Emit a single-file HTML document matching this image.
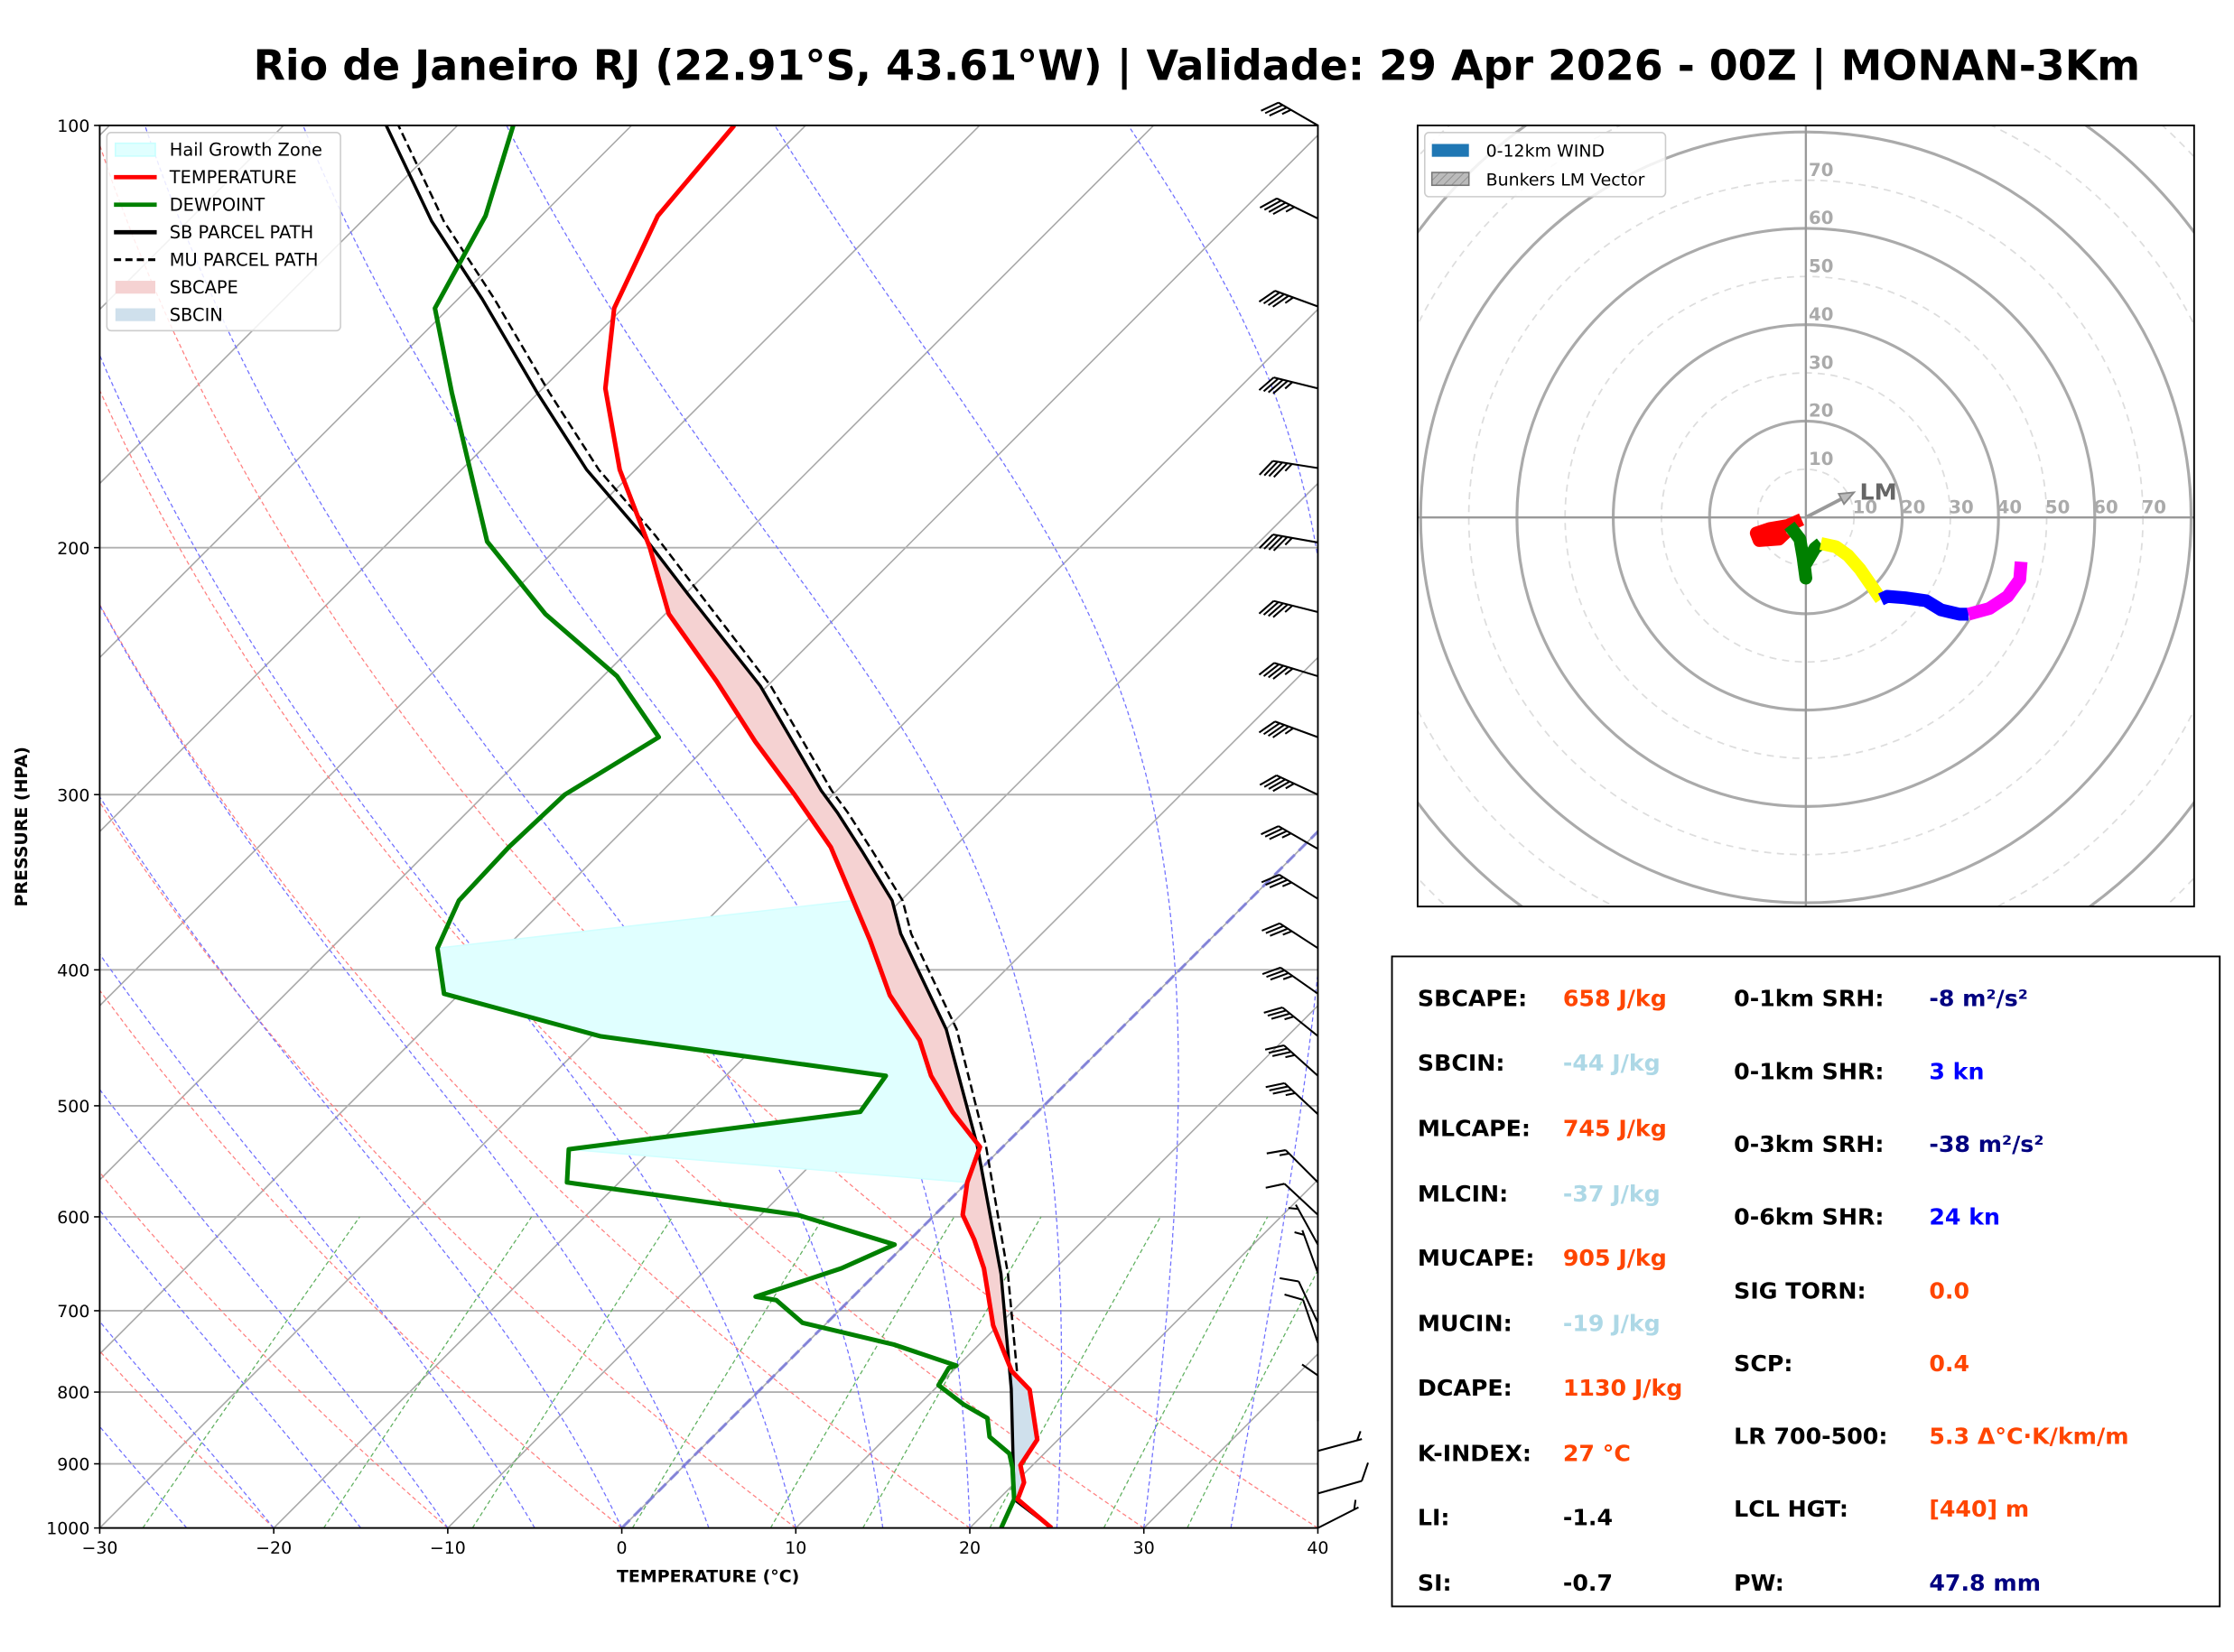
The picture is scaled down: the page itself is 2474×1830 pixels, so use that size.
<!DOCTYPE html>
<html><head><meta charset="utf-8"><style>
html,body{margin:0;padding:0;background:#fff}
svg{display:block;font-family:"DejaVu Sans","Liberation Sans",sans-serif}
</style></head><body>
<svg id="root" xmlns="http://www.w3.org/2000/svg" width="2474" height="1830" viewBox="0 0 1568 1159" preserveAspectRatio="none">
<rect x="0" y="0" width="1568" height="1159" fill="#fff"/>
<text x="840" y="56" text-anchor="middle" font-size="29.1" font-weight="bold">Rio de Janeiro RJ (22.91°S, 43.61°W) | Validade: 29 Apr 2026 - 00Z | MONAN-3Km</text>
<defs>
<clipPath id="skewClip"><rect x="70" y="88" width="855" height="984"/></clipPath>
<clipPath id="hodoClip"><rect x="995" y="88" width="545" height="548"/></clipPath>
<pattern id="hatch" width="4" height="4" patternUnits="userSpaceOnUse" patternTransform="rotate(45)"><rect width="4" height="4" fill="#bbb"/><line x1="0" y1="0" x2="0" y2="4" stroke="#888" stroke-width="1"/></pattern>
</defs>
<g id="skew"></g>
<g id="hodo"></g>
<g id="table"></g>
</svg>
<script>
// ---------- DATA ----------
const tempP = [1000,954,928,902,865,797,773,717,653,623,598,567,535,505,476,449,417,381,327,300,275,249,223,200,176,154,135,116,100];
const tempT = [24.7,21.1,20.5,19.3,18.8,15.5,13.4,9.7,5.9,3.7,1.6,0.0,-1.3,-4.9,-8.2,-10.9,-15.2,-19.5,-27.1,-32.2,-37.5,-43.2,-49.8,-54.7,-60.9,-66.4,-70.5,-73.3,-74.1];
const dewP = [1000,954,906,885,861,835,816,791,769,766,740,714,688,684,653,628,598,567,537,505,476,446,416,386,357,327,300,273,247,223,198,176,155,135,116,100];
const dewT = [21.8,20.9,19.0,18.0,15.9,14.7,12.5,10.0,9.6,9.9,5.1,-1.4,-4.2,-5.6,-2.3,-0.6,-7.9,-23.0,-24.8,-10.2,-10.8,-29.5,-40.9,-43.9,-45.4,-45.6,-45.4,-43.3,-49.2,-56.9,-64.4,-69.5,-75.0,-80.8,-83.2,-86.8];
const sbP = [1000,954,796,659,533,441,377,357,329,309,298,251,216,196,176,155,133,117,100];
const sbT = [24.7,20.9,14.4,7.2,-1.6,-10.0,-18.1,-20.5,-25.1,-28.7,-30.9,-40.4,-49.8,-55.8,-62.8,-70.1,-78.6,-86.0,-94.1];
const muP = [773,659,533,441,377,357,329,309,298,251,216,196,176,155,133,117,100];
const muT = [13.7,7.6,-1.1,-9.4,-17.5,-19.9,-24.5,-28.1,-30.3,-39.8,-49.1,-55.1,-62.1,-69.4,-77.9,-85.3,-93.4];
const barbP = [100,116.5,134.6,154,175.5,198.3,222.3,247,273,300,328,356,386,416,446,476,507,567,598,628,658,714,738,839,881,945,1000];
const barbDir = [300,296,290,284,279,280,284,287,290,295,300,302,303,305,309,312,313,315,313,331,340,335,341,360,75,74,63];
const barbSpd = [35,45,45,45,45,45,45,45,45,45,35,35,35,35,35,35,35,15,10,5,5,10,10,10,5,10,5];
const xTicks = [-30,-20,-10,0,10,20,30,40];
const yTicks = [100,200,300,400,500,600,700,800,900,1000];
// hodograph segments (knots)
const hodoRedU = [-0.9,-3.75,-7.5,-10.3,-9.7,-5.6,-4.1];
const hodoRedV = [-0.4,-1.7,-2.3,-3.25,-4.8,-4.5,-3.1];
const hodoGreenU = [-3.4,-1.25,-0.6,0.0,-0.3,1.9,3.1];
const hodoGreenV = [-1.7,-4.5,-8.25,-12.6,-10.1,-6.4,-5.4];
const hodoYellowU = [3.1,6.25,8.75,11.25,15.6];
const hodoYellowV = [-5.4,-6.1,-7.9,-10.75,-17];
const hodoBlueU = [15.6,16.9,20.6,25,28.1,31.9,33.75];
const hodoBlueV = [-17,-16.4,-16.7,-17.3,-19.2,-20.1,-20.1];
const hodoMagU = [33.75,38.1,41.9,44.4,44.7];
const hodoMagV = [-20.1,-18.9,-16.4,-12.9,-9.2];
const lmU = 10, lmV = 5.2;
const ringLabels = [10,20,30,40,50,60,70];

// ---------- HELPERS ----------
const NS = "http://www.w3.org/2000/svg";
function mk(tag, attrs, parent){ const e=document.createElementNS(NS,tag); for(const k in attrs) e.setAttribute(k,attrs[k]); parent.appendChild(e); return e; }
const X0=70, X1=925, Y0=88, Y1=1072, PX=12.214, DEC=984;
function yP(p){ return Y1 - Math.log10(1000/p)*DEC; }
function xT(T,p){ return X0 + (T+30)*PX + (Y1 - yP(p)); }
function interp(P, T, p){
  for(let i=0;i<P.length-1;i++){ if((p<=P[i]&&p>=P[i+1])){ const f=Math.log(p/P[i])/Math.log(P[i+1]/P[i]); return T[i]+f*(T[i+1]-T[i]); } }
  return null;
}
function pathFrom(P,T){ return P.map((p,i)=>(i?'L':'M')+xT(T[i],p).toFixed(2)+' '+yP(p).toFixed(2)).join(' '); }

const skew = document.getElementById('skew');
const bg = mk('g',{'clip-path':'url(#skewClip)'},skew);



// isotherms
for(let T=-140;T<=40;T+=10){
  const l=mk('line',{x1:xT(T,1000),y1:Y1,x2:xT(T,100),y2:Y0,stroke:'#a8a8a8','stroke-width':1},bg);
  
  
}
// isobars
yTicks.forEach(p=>{
  const l=mk('line',{x1:X0,y1:yP(p),x2:X1,y2:yP(p),stroke:'#b0b0b0','stroke-width':1.2},bg);
  
  
});
// dry adiabats
for(let t0=-40;t0<=40;t0+=10){
  let d='';
  for(let p=1000;p>=100;p-=10){ const T=(t0+273.15)*Math.pow(p/1000,0.2857)-273.15; d+=(p==1000?'M':'L')+xT(T,p).toFixed(1)+' '+yP(p).toFixed(1); }
  const e=mk('path',{d:d,fill:'none',stroke:'#ff8080','stroke-width':0.8,'stroke-dasharray':'3,2'},bg);
  
  
}
// moist adiabats
function es(Tc){ return 6.112*Math.exp(17.67*Tc/(Tc+243.5)); }
for(let t0=-30;t0<=45;t0+=5){
  let T=t0+273.15, d='M'+xT(t0,1000).toFixed(1)+' '+Y1;
  for(let p=1000;p>100;p-=2){
    const e_=es(T-273.15), rs=0.622*e_/(p-e_);
    const dTdp=(287*T+2.5e6*rs)/(1005+2.5e6*2.5e6*rs*0.622/(287*T*T))/p;
    T-=dTdp*2;
    d+='L'+xT(T-273.15,p-2).toFixed(1)+' '+yP(p-2).toFixed(1);
  }
  const e=mk('path',{d:d,fill:'none',stroke:'#7070ff','stroke-width':0.8,'stroke-dasharray':'3,2'},bg);
  
  
}
// mixing ratio
[0.0004,0.001,0.002,0.004,0.007,0.01,0.016,0.024,0.032].forEach(w=>{
  let d='';
  for(let p=1000;p>=600;p-=20){ const e_=w*p/(0.622+w), l=Math.log(e_/6.112), Td=243.5*l/(17.67-l); d+=(p==1000?'M':'L')+xT(Td,p).toFixed(1)+' '+yP(p).toFixed(1); }
  const e=mk('path',{d:d,fill:'none',stroke:'#60b060','stroke-width':0.8,'stroke-dasharray':'3,2'},bg);
  
  
});
// 0C isotherm highlight
const zl=mk('line',{x1:xT(0,1000),y1:Y1,x2:xT(0,100),y2:Y0,stroke:'#7777dd','stroke-width':2,'stroke-dasharray':'8,4',opacity:0.8},bg);



const fg = mk('g',{'clip-path':'url(#skewClip)'},skew);
// hail growth zone
(function(){
  let pts=[];
  dewP.forEach((p,i)=>{ if(p<=537&&p>=386) pts.push([p,dewT[i]]); });
  pts.sort((a,b)=>a[0]-b[0]);
  let poly=pts.map(q=>[xT(q[1],q[0]),yP(q[0])]);
  const tp=[]; for(let p=567;p>=357;p-=5){ tp.push([xT(interp(tempP,tempT,p),p),yP(p)]); }
  poly=poly.concat(tp);
  const e=mk('polygon',{points:poly.map(q=>q[0].toFixed(1)+','+q[1].toFixed(1)).join(' '),fill:'#e0ffff',stroke:'#d0ffff','stroke-width':1},fg);
  
  
})();
// CAPE/CIN fill
(function(){
  for(let p=1000;p>200;p-=2){
    const p2=p-2;
    const a1=interp(sbP,sbT,p), a2=interp(sbP,sbT,p2), e1=interp(tempP,tempT,p), e2=interp(tempP,tempT,p2);
    if(a1==null||a2==null||e1==null||e2==null) continue;
    const diff=(a1-e1)+(a2-e2);
    if(Math.abs(diff)<0.01) continue;
    const pts=[[xT(a1,p),yP(p)],[xT(a2,p2),yP(p2)],[xT(e2,p2),yP(p2)],[xT(e1,p),yP(p)]];
    const q=mk('polygon',{points:pts.map(v=>v[0].toFixed(2)+','+v[1].toFixed(2)).join(' '),fill:diff>0?'#f5d2d2':'#cfe0ec',stroke:diff>0?'#f5d2d2':'#cfe0ec','stroke-width':0.6},fg);
    
    
  }
})();
let e;
e=mk('path',{d:pathFrom(muP,muT),fill:'none',stroke:'#000','stroke-width':1.6,'stroke-dasharray':'6,3'},fg);
 
e=mk('path',{d:pathFrom(sbP,sbT),fill:'none',stroke:'#000','stroke-width':2.2,'stroke-linejoin':'round'},fg);
 
e=mk('path',{d:pathFrom(dewP,dewT),fill:'none',stroke:'#008000','stroke-width':3.2,'stroke-linejoin':'round'},fg);
 
e=mk('path',{d:pathFrom(tempP,tempT),fill:'none',stroke:'#ff0000','stroke-width':3.2,'stroke-linejoin':'round'},fg);
 

// frame
e=mk('rect',{x:X0,y:Y0,width:X1-X0,height:Y1-Y0,fill:'none',stroke:'#000','stroke-width':1.2},skew);
 
// ticks
xTicks.forEach(T=>{
  const x=X0+(T+30)*PX;
  mk('line',{x1:x,y1:Y1,x2:x,y2:Y1+4,stroke:'#000','stroke-width':1},skew);
  const t=mk('text',{x:x,y:Y1+18,'text-anchor':'middle','font-size':12},skew);
  t.textContent=(T<0?'\u2212':'')+Math.abs(T);
   
});
yTicks.forEach(p=>{
  const y=yP(p);
  mk('line',{x1:X0-4,y1:y,x2:X0,y2:y,stroke:'#000','stroke-width':1},skew);
  const t=mk('text',{x:X0-7,y:y+4.5,'text-anchor':'end','font-size':12},skew);
  t.textContent=p;
   
});
e=mk('text',{x:497,y:1110,'text-anchor':'middle','font-size':12,'font-weight':'bold'},skew);
e.textContent='TEMPERATURE (°C)';
 
e=mk('text',{x:19,y:580,'text-anchor':'middle','font-size':12,'font-weight':'bold',transform:'rotate(-90 19 580)'},skew);
e.textContent='PRESSURE (HPA)';
 

// wind barbs
const barbG=mk('g',{},skew);
 
barbP.forEach((p,i)=>{
  const d=barbDir[i]*Math.PI/180, bx=X1, by=yP(p), L=32;
  const sx=Math.sin(d), sy=-Math.cos(d);
  const tx=bx+sx*L, ty=by+sy*L;
  const th=-55*Math.PI/180;
  const ux=sx*Math.cos(th)-sy*Math.sin(th), uy=sx*Math.sin(th)+sy*Math.cos(th);
  let dd='M'+bx+' '+by.toFixed(1)+'L'+tx.toFixed(1)+' '+ty.toFixed(1);
  let full=Math.floor(barbSpd[i]/10), half=(barbSpd[i]%10)>=5, k=0;
  for(let j=0;j<full;j++,k++){ const px=tx-sx*k*3.4, py=ty-sy*k*3.4; dd+='M'+px.toFixed(1)+' '+py.toFixed(1)+'l'+(ux*13.5).toFixed(1)+' '+(uy*13.5).toFixed(1); }
  if(half){ if(full==0) k=1; const px=tx-sx*k*3.4, py=ty-sy*k*3.4; dd+='M'+px.toFixed(1)+' '+py.toFixed(1)+'l'+(ux*6.8).toFixed(1)+' '+(uy*6.8).toFixed(1); }
  const b=mk('path',{d:dd,fill:'none',stroke:'#000','stroke-width':1.3},barbG);
  
  
});

// legend
const lg=mk('g',{},skew);
 
mk('rect',{x:75,y:93,width:164,height:139,rx:3,fill:'#fff','fill-opacity':0.85,stroke:'#ccc','stroke-width':1},lg);
const legItems=[['Hail Growth Zone','patch','#e0ffff','#c8ffff'],['TEMPERATURE','line','#ff0000'],['DEWPOINT','line','#008000'],['SB PARCEL PATH','line','#000'],['MU PARCEL PATH','dash','#000'],['SBCAPE','patch','#f5d2d2'],['SBCIN','patch','#cfe0ec']];
legItems.forEach((it,i)=>{
  const y=105+i*19.3;
  const g=mk('g',{},lg);
   
  if(it[1]=='patch') mk('rect',{x:81,y:y-4.5,width:28,height:9,fill:it[2],stroke:it[3]||'none'},g);
  else mk('line',{x1:80,y1:y,x2:110,y2:y,stroke:it[2],'stroke-width':it[1]=='dash'?2:3,'stroke-dasharray':it[1]=='dash'?'5,3':'none'},g);
  const t=mk('text',{x:119,y:y+4.3,'font-size':12.3},g); t.textContent=it[0];
});

// ---------- HODOGRAPH ----------
const hodo=document.getElementById('hodo');
const HC={x:1267.5,y:363}, K=3.38;
const hg=mk('g',{'clip-path':'url(#hodoClip)'},hodo);
for(let r=10;r<=110;r+=10){
  const c=mk('circle',{cx:HC.x,cy:HC.y,r:r*K,fill:'none',stroke:r%20==0?'#aaa':'#ddd','stroke-width':r%20==0?2:1.1,'stroke-dasharray':r%20==0?'none':'5,4'},hg);
  
  
}
mk('line',{x1:995,y1:HC.y,x2:1540,y2:HC.y,stroke:'#999','stroke-width':1.5},hg);
mk('line',{x1:HC.x,y1:88,x2:HC.x,y2:636,stroke:'#999','stroke-width':1.5},hg);
ringLabels.forEach(r=>{
  let t=mk('text',{x:HC.x+r*K-1,y:HC.y-3,'text-anchor':'start','font-size':12.5,'font-weight':'bold',fill:'#aaa'},hodo);
  t.textContent=r;  
  t=mk('text',{x:HC.x+2,y:HC.y-r*K-3,'font-size':12.5,'font-weight':'bold',fill:'#aaa'},hodo);
  t.textContent=r;  
});
function hodoSeg(U,V,col,name){
  const d=U.map((u,i)=>(i?'L':'M')+(HC.x+u*K).toFixed(1)+' '+(HC.y-V[i]*K).toFixed(1)).join('');
  const p=mk('path',{d:d,fill:'none',stroke:col,'stroke-width':9,'stroke-linejoin':'round','stroke-linecap':'butt'},hg);
  
  
}
hodoSeg(hodoRedU,hodoRedV,'#ff0000','hodo-segment-0-1km');
hodoSeg(hodoGreenU,hodoGreenV,'#008000','hodo-segment-1-3km');
hodoSeg(hodoYellowU,hodoYellowV,'#ffff00','hodo-segment-3-6km');
hodoSeg(hodoBlueU,hodoBlueV,'#0000ff','hodo-segment-6-9km');
hodoSeg(hodoMagU,hodoMagV,'#ff00ff','hodo-segment-9-12km');
(function(){
  const ex=HC.x+lmU*K, ey=HC.y-lmV*K, a=Math.atan2(ey-HC.y,ex-HC.x);
  const g=mk('g',{},hodo);
   
  mk('line',{x1:HC.x,y1:HC.y,x2:ex-Math.cos(a)*6,y2:ey-Math.sin(a)*6,stroke:'#999','stroke-width':2.5},g);
  const p1=[ex,ey],p2=[ex-10*Math.cos(a)+4*Math.sin(a),ey-10*Math.sin(a)-4*Math.cos(a)],p3=[ex-10*Math.cos(a)-4*Math.sin(a),ey-10*Math.sin(a)+4*Math.cos(a)];
  mk('polygon',{points:[p1,p2,p3].map(q=>q.join(',')).join(' '),fill:'#bbb',stroke:'#888','stroke-width':1.2},g);
  const t=mk('text',{x:ex+4,y:ey+5,'font-size':16,'font-weight':'bold',fill:'#666'},g); t.textContent='LM';
})();
e=mk('rect',{x:995,y:88,width:545,height:548,fill:'none',stroke:'#000','stroke-width':1.2},hodo);
 
(function(){
  const g=mk('g',{},hodo);
   
  mk('rect',{x:1000,y:93,width:169,height:45,rx:3,fill:'#fff','fill-opacity':0.85,stroke:'#ccc'},g);
  mk('rect',{x:1005,y:101,width:26,height:9,fill:'#1f77b4'},g);
  let t=mk('text',{x:1043,y:110,'font-size':12},g); t.textContent='0-12km WIND';
  mk('rect',{x:1005,y:121,width:26,height:9,fill:'url(#hatch)',stroke:'#777'},g);
  t=mk('text',{x:1043,y:130,'font-size':12},g); t.textContent='Bunkers LM Vector';
})();

// ---------- TABLE ----------
const tbl=document.getElementById('table');
mk('rect',{x:977,y:671,width:581,height:456,fill:'#fff',stroke:'#000','stroke-width':1.2},tbl);
const leftRows=[['SBCAPE:','658 J/kg','#ff4500',700],['SBCIN:','-44 J/kg','#add8e6',745],['MLCAPE:','745 J/kg','#ff4500',791],['MLCIN:','-37 J/kg','#add8e6',837],['MUCAPE:','905 J/kg','#ff4500',882],['MUCIN:','-19 J/kg','#add8e6',928],['DCAPE:','1130 J/kg','#ff4500',973],['K-INDEX:','27 °C','#ff4500',1019],['LI:','-1.4','#000',1064],['SI:','-0.7','#000',1110]];
const rightRows=[['0-1km SRH:','-8 m²/s²','#000080',700],['0-1km SHR:','3 kn','#0000ff',751],['0-3km SRH:','-38 m²/s²','#000080',802],['0-6km SHR:','24 kn','#0000ff',853],['SIG TORN:','0.0','#ff4500',905],['SCP:','0.4','#ff4500',956],['LR 700-500:','5.3 Δ°C·K/km/m','#ff4500',1007],['LCL HGT:','[440] m','#ff4500',1058],['PW:','47.8 mm','#000080',1110]];
function row(r,lx,vx){
  const g=mk('g',{},tbl);
  
  
  let t=mk('text',{x:lx,y:r[3]+6,'font-size':16,'font-weight':'bold',fill:'#000'},g); t.textContent=r[0];
  t=mk('text',{x:vx,y:r[3]+6,'font-size':16,'font-weight':'bold',fill:r[2]},g); t.textContent=r[1];
}
leftRows.forEach(r=>row(r,995,1097));
rightRows.forEach(r=>row(r,1217,1354));
</script>
</body></html>
